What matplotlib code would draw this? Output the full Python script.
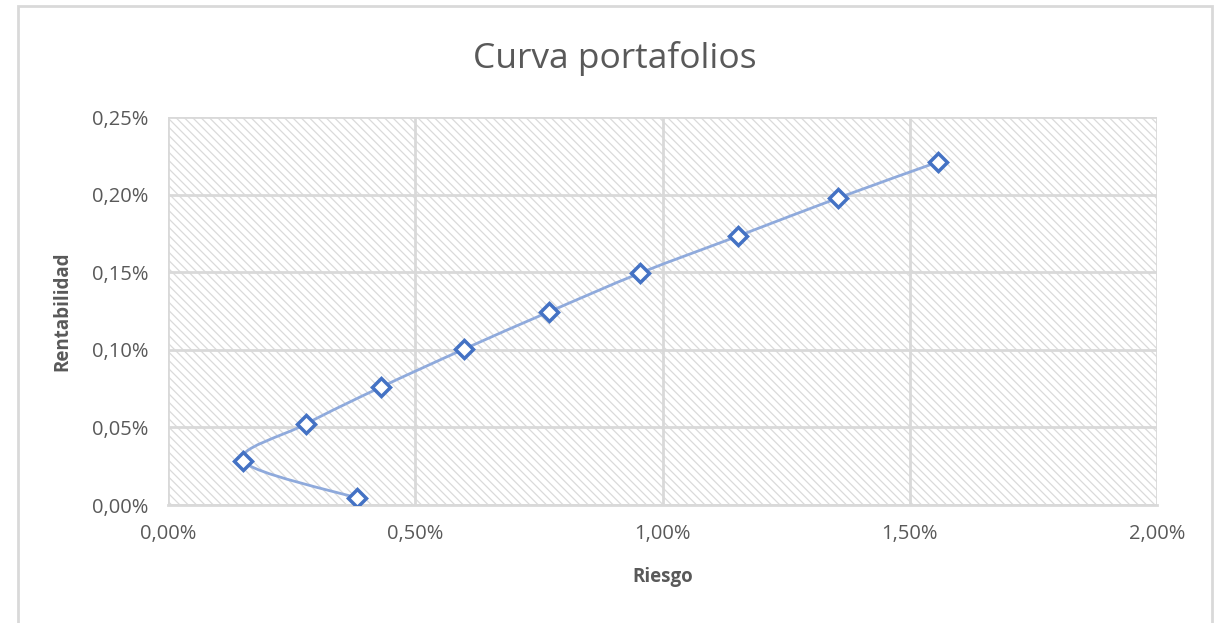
"""Curva portafolios: riesgo vs rentabilidad (Excel-style scatter with smooth line)."""

import matplotlib

matplotlib.use("Agg")
import matplotlib.pyplot as plt
from matplotlib.patches import PathPatch, Rectangle
from matplotlib.path import Path
from matplotlib.ticker import FuncFormatter

# data, in percent
riesgo = [0.382, 0.152, 0.279, 0.431, 0.599, 0.770, 0.955, 1.153, 1.355, 1.557]
rentabilidad = [0.0045, 0.0284, 0.0522, 0.0760, 0.1005, 0.1244, 0.1495, 0.1733, 0.1978, 0.2210]
x_ticks = [0.0, 0.5, 1.0, 1.5, 2.0]
y_ticks = [0.0, 0.05, 0.10, 0.15, 0.20, 0.25]

LINE = "#8faadc"
MARKER = "#4472c4"
GRID = "#d9d9d9"
TEXT = "#595959"

plt.rcParams["font.family"] = ["Open Sans", "DejaVu Sans"]
plt.rcParams["hatch.linewidth"] = 0.9


def smooth_path(xs, ys, t=0.5):
    """Catmull-Rom style bezier path through the points, like Excel's smooth line."""
    verts = [(xs[0], ys[0])]
    codes = [Path.MOVETO]
    n = len(xs)
    for i in range(n - 1):
        x0, y0 = (xs[i - 1], ys[i - 1]) if i > 0 else (xs[i], ys[i])
        x1, y1 = xs[i], ys[i]
        x2, y2 = xs[i + 1], ys[i + 1]
        x3, y3 = (xs[i + 2], ys[i + 2]) if i + 2 < n else (x2, y2)
        c1 = (x1 + (x2 - x0) * t / 3, y1 + (y2 - y0) * t / 3)
        c2 = (x2 - (x3 - x1) * t / 3, y2 - (y3 - y1) * t / 3)
        verts += [c1, c2, (x2, y2)]
        codes += [Path.CURVE4] * 3
    return Path(verts, codes)


fig = plt.figure(figsize=(12.2, 6.23), dpi=100)
fig.patches.append(
    Rectangle((18 / 1220, -0.02), 1194 / 1220, 1.02 - 6 / 623,
              transform=fig.transFigure, fill=False, edgecolor=GRID, linewidth=2)
)
ax = fig.add_axes([168 / 1220, 1 - 505 / 623, 989 / 1220, 388 / 623])

ax.set_xlim(0, 2.0)
ax.set_ylim(0, 0.25)
# Excel "light downward diagonal" pattern fill of the plot area
ax.add_patch(Rectangle((0, 0), 2.0, 0.25, facecolor="white", edgecolor="#dadada",
                       linewidth=0, hatch="\\\\\\\\", zorder=0))
ax.set_xticks(x_ticks)
ax.set_yticks(y_ticks)
ax.xaxis.set_major_formatter(FuncFormatter(lambda v, _: f"{v:.2f}%".replace(".", ",")))
ax.yaxis.set_major_formatter(FuncFormatter(lambda v, _: f"{v:.2f}%".replace(".", ",")))
ax.grid(True, color=GRID, linewidth=2, zorder=1)
for side in ["top", "right", "left"]:
    ax.spines[side].set_visible(False)
ax.spines["bottom"].set_color(GRID)
ax.spines["bottom"].set_linewidth(2)
ax.tick_params(length=0, labelsize=14.5, colors=TEXT, pad=14)

ax.add_patch(PathPatch(smooth_path(riesgo, rentabilidad), facecolor="none",
                       edgecolor=LINE, linewidth=2, zorder=2))
ax.plot(riesgo, rentabilidad, linestyle="none", marker="D", markersize=9,
        markerfacecolor="white", markeredgecolor=MARKER, markeredgewidth=2.5, zorder=3)

ax.set_xlabel("Riesgo", fontsize=13.5, color=TEXT, fontweight="bold", labelpad=16)
ax.set_ylabel("Rentabilidad", fontsize=13.5, color=TEXT, fontweight="bold", labelpad=14)
fig.text(615 / 1220, 1 - 58 / 623, "Curva portafolios", fontsize=25.5, color=TEXT,
         ha="center", va="center")

fig.savefig("out.png", dpi=100)
